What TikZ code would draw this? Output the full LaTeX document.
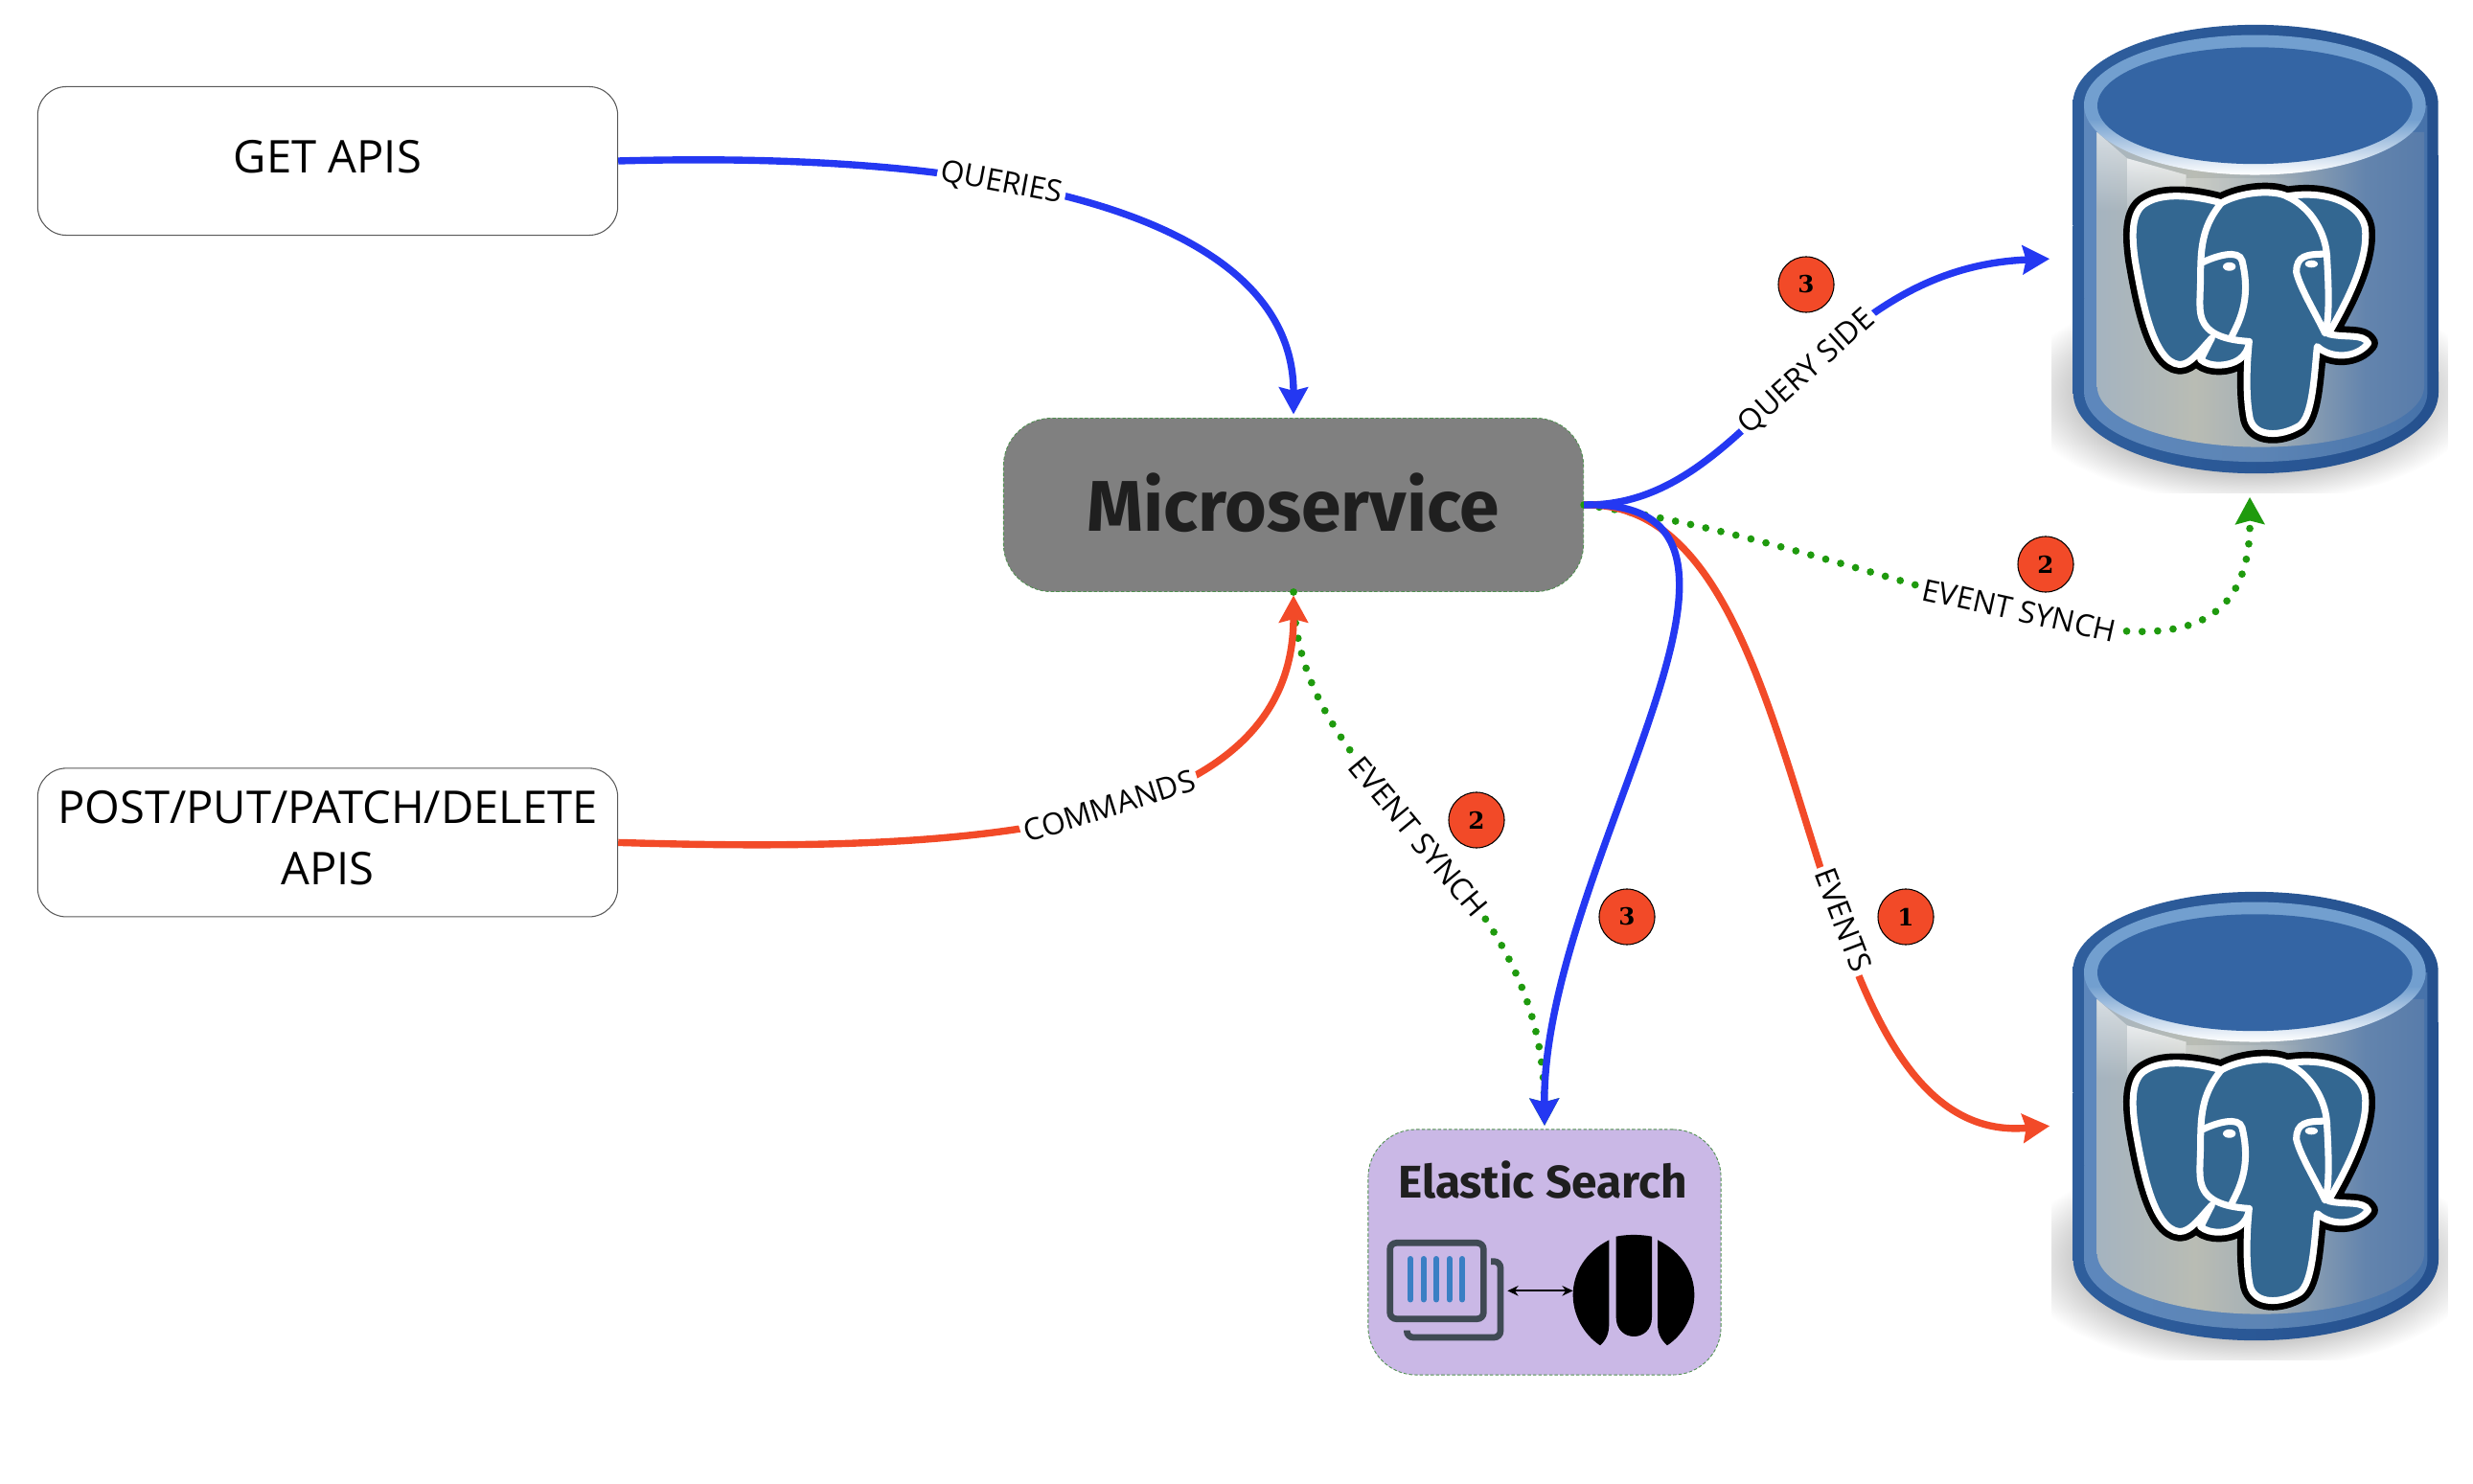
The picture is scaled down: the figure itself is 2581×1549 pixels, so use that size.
\documentclass[tikz,border=0pt]{standalone}
\usepackage{fontspec}
\usepackage{tikz}
\usetikzlibrary{arrows.meta,fadings}
\setmainfont{Open Sans}
\newfontfamily\titlefont{Fira Sans}
\newfontfamily\badgefont{DejaVu Serif}

\definecolor{edgeblue}{HTML}{2438F2}
\definecolor{edgered}{HTML}{F24A28}
\definecolor{edgegreen}{HTML}{1F9A0E}
\definecolor{boxgreen}{HTML}{4F8F4F}
\definecolor{elastic}{HTML}{CAB8E6}
\definecolor{pgblue}{HTML}{336791}
\definecolor{dbblue}{HTML}{3465A4}
\definecolor{dbdark}{HTML}{204A87}
\definecolor{dbring}{HTML}{729FCF}
\definecolor{iconslate}{HTML}{3F4A54}
\definecolor{iconbar}{HTML}{3A7FC4}
\definecolor{bodya}{HTML}{7FA3CC}
\definecolor{bodyb}{HTML}{A6B4BF}
\definecolor{bodyc}{HTML}{B9BCB4}
\definecolor{bodyd}{HTML}{A0ADB6}
\definecolor{bodye}{HTML}{6384AD}
\definecolor{bodyf}{HTML}{3A66A3}
\definecolor{mida}{HTML}{5D8AC4}
\definecolor{midb}{HTML}{5D85B5}
\definecolor{midc}{HTML}{2F5F9E}

\pgfdeclarehorizontalshading{dbbody}{100bp}{
	color(0bp)=(bodya); color(26bp)=(bodyb); color(40bp)=(bodyc);
	color(52bp)=(bodyd); color(66bp)=(bodye); color(100bp)=(bodyf)}
\pgfdeclarehorizontalshading{dbmid}{100bp}{
	color(0bp)=(mida); color(50bp)=(midb); color(100bp)=(midc)}
\pgfdeclarehorizontalshading{dbouter}{100bp}{
	color(0bp)=(dbblue); color(100bp)=(dbdark)}
\pgfdeclareverticalshading{dbrim}{100bp}{
	color(0bp)=(white); color(25bp)=(white); color(45bp)=(dbring); color(100bp)=(dbring)}

\tikzset{
	pgdb/.pic={
		\begin{scope}[xscale=1/3,yscale=1/2.904,shift={(-624,-784)}]
			% shadow
			\begin{scope}
				\clip (5,960) rectangle (1243,1495);
				\shade[inner color=black!80,outer color=white] (624,1190) ellipse (730 and 335);
			\end{scope}
			% can
			\shade[shading=dbouter] (70,315) arc[start angle=180,end angle=360,x radius=572,y radius=240]
				-- (1215,1190) arc[start angle=0,end angle=180,x radius=572,y radius=245] -- cycle;
			\shade[shading=dbmid] (105,320) -- (1180,320) -- (1180,1190)
				arc[start angle=0,end angle=180,x radius=537,y radius=210] -- cycle;
			\shade[shading=dbbody] (145,400) -- (1170,400) -- (1170,1170)
				arc[start angle=0,end angle=180,x radius=512,y radius=185] -- cycle;
			\fill[white,path fading=south,opacity=.55] (145,400) -- (240,480) -- (240,640) -- (145,640) -- cycle;
			\fill[white,path fading=south,opacity=.75] (240,480) -- (425,530) -- (425,680) -- (240,680) -- cycle;
			\fill[white,path fading=east,opacity=.25] (425,540) -- (800,540) -- (800,620) -- (425,620) -- cycle;
			\shade[shading=dbrim] (640,318) ellipse (535 and 212);
			\fill[dbblue] (640,320) ellipse (493 and 177);
			% elephant
			\def\pgsilhouette{(535,615) .. controls (440,590) and (350,585) .. (300,615)
				.. controls (250,640) and (255,720) .. (265,790)
				.. controls (285,900) and (320,1100) .. (405,1105)
				.. controls (440,1105) and (470,1060) .. (505,1025)
				.. controls (490,1050) and (480,1075) .. (470,1090)
				.. controls (500,1115) and (560,1110) .. (590,1090)
				.. controls (610,1075) and (620,1060) .. (622,1035)
				.. controls (615,1100) and (610,1200) .. (625,1270)
				.. controls (640,1325) and (720,1325) .. (780,1290)
				.. controls (820,1260) and (825,1150) .. (835,1050)
				.. controls (880,1090) and (960,1085) .. (995,1040)
				.. controls (980,1010) and (920,1025) .. (870,1012)
				.. controls (950,880) and (995,770) .. (985,690)
				.. controls (970,615) and (860,575) .. (740,595)
				.. controls (700,575) and (600,580) .. (535,615) -- cycle}
			\draw[black,line width=5.8pt,line join=round] \pgsilhouette;
			\fill[pgblue] \pgsilhouette;
			\draw[white,line width=2pt,line join=round] \pgsilhouette;
			\draw[white,line width=2pt,line cap=round]
				(535,615) .. controls (480,680) and (470,740) .. (470,830)
				.. controls (470,880) and (465,920) .. (470,950)
				.. controls (480,1010) and (540,1030) .. (622,1035)
				(477,795) .. controls (520,775) and (590,755) .. (600,790)
				.. controls (620,870) and (610,930) .. (585,985) -- (565,1025)
				(740,595) .. controls (820,630) and (860,710) .. (865,770)
				.. controls (800,770) and (770,775) .. (770,825)
				.. controls (780,870) and (830,950) .. (860,1010)
				(865,770) .. controls (870,850) and (875,950) .. (860,1010);
			\fill[white] (560,808) ellipse (20 and 13) (817,800) ellipse (20 and 11);
		\end{scope}
	}
}

\begin{document}
\begin{tikzpicture}
	[x=0.01cm,y=-0.01cm,>={Stealth[length=8pt,width=8.5pt,inset=1pt]},shorten >=1pt,node distance=7.11cm,
		api node/.style={rectangle,draw=black!65,line width=.3pt,rounded corners=.3cm,align=center,
			minimum width=6.05cm,minimum height=1.55cm,inner sep=0pt,text depth=2.8pt,
			font=\fontsize{13.4}{18.3}\selectfont},
		service node/.style={rectangle,draw=boxgreen,dash pattern=on 1pt off .6pt,line width=.25pt,rounded corners=.5cm},
		db node/.style={rectangle,minimum width=4.09cm,minimum height=4.89cm,inner sep=0pt},
		badge node/.style={circle,draw=black,line width=.3pt,fill=edgered,minimum size=.58cm,inner sep=0pt,
			font=\badgefont\bfseries\fontsize{7}{7}\selectfont},
		edge label/.style={sloped,fill=white,inner sep=1pt,font=\fontsize{9}{9}\selectfont},
		blue edge/.style={->,draw=edgeblue,line width=2.1pt},
		red edge/.style={->,draw=edgered,line width=2.1pt},
		green edge/.style={->,draw=edgegreen,line width=2.2pt,line cap=round,dash pattern=on 0pt off 4.6pt}]

	\useasboundingbox (0,0) rectangle (2581,1549);

	\node[api node] (getapis) at (342,168) {GET APIS};
	\node[api node] (postapis) [below of = getapis] {POST/PUT/PATCH/DELETE\\APIS};
	\node[service node,fill=black!50,minimum width=6.05cm,minimum height=1.81cm,inner sep=0pt,text depth=1.9pt,
		font=\titlefont\bfseries\fontsize{21.3}{24}\selectfont,text=black!88] (micro) at (1350,527) {Microservice};
	\node[service node,fill=elastic,minimum width=3.68cm,minimum height=2.56cm] (search) at (1612,1307) {};
	\node[font=\titlefont\bfseries\fontsize{13.6}{16}\selectfont,text=black!88] (searchtitle) at (1610,1232) {Elastic Search};

	\node[db node] (pgone) at (2348,270) {};
	\node[db node] (pgtwo) at (2348,1175) {};
	\pic at (pgone.center) {pgdb};
	\pic at (pgtwo.center) {pgdb};

	\node[badge node] (badgequery) at (1885,297) {3};
	\node[badge node] (badgesyncone) at (2135,589) {2};
	\node[badge node] (badgesynctwo) at (1541,856) {2};
	\node[badge node] (badgesearch) at (1698,957) {3};
	\node[badge node] (badgeevents) at (1989,957) {1};

	% stack and logo inside the search box
	\begin{scope}[shift={(1400,1160)},scale=1/3]
		\draw[iconslate,line width=1.9pt,rounded corners=1.9pt] (152,412) rectangle (445,650);
		\draw[iconslate,line width=1.9pt,rounded corners=1.9pt] (468,470) -- (498,470) -- (498,708) -- (205,708) -- (205,675);
		\foreach \barx in {216,257,297,338,378}
			\draw[iconbar,line width=1.7pt,line cap=round] (\barx,462) -- (\barx,600);
		\fill[black] (860,392) .. controls (895,385) and (935,385) .. (972,392) -- (972,645)
			.. controls (972,725) and (860,725) .. (860,645) -- cycle;
		\fill[black] (838,403) .. controls (765,440) and (725,505) .. (725,575)
			.. controls (725,640) and (760,700) .. (810,733) .. controls (830,715) and (838,695) .. (838,665) -- cycle;
		\fill[black] (990,403) .. controls (1065,440) and (1105,505) .. (1105,575)
			.. controls (1105,640) and (1070,700) .. (1020,733) .. controls (1000,715) and (990,695) .. (990,665) -- cycle;
		\coordinate (stackicon) at (520,562);
		\coordinate (logoicon) at (725,562);
	\end{scope}
	\draw[{Stealth[length=3.2pt,width=3pt]}-{Stealth[length=3.2pt,width=3pt]},black,line width=.5pt,shorten >=0pt] (stackicon) -- (logoicon);

	% green first, the others run over it
	\draw[green edge] (micro.east) .. controls (2000,575) and (2350,790) .. node[edge label,pos=.47] (labelsyncone) {EVENT SYNCH} (pgone.south);
	\draw[green edge] (micro.south) .. controls (1350,830) and (1610,900) .. node[edge label,pos=.5] (labelsynctwo) {EVENT SYNCH} (search.north);

	\draw[blue edge] (getapis.east) .. controls (1120,155) and (1350,250) .. node[edge label,pos=.34] (labelqueries) {QUERIES} (micro.north);
	\draw[red edge] (postapis.east) .. controls (1000,890) and (1350,875) .. node[edge label,pos=.535] (labelcommands) {COMMANDS} (micro.south);
	\draw[blue edge] (micro.east) .. controls (1830,530) and (1890,280) .. node[edge label,pos=.54] (labelqueryside) {QUERY SIDE} (pgone.west);
	\draw[red edge] (micro.east) .. controls (1910,520) and (1860,1200) .. node[edge label,pos=.605] (labelevents) {EVENTS} (pgtwo.west);
	\draw[blue edge] (micro.east) .. controls (1900,520) and (1610,900) .. (search.north);

\end{tikzpicture}
\end{document}
